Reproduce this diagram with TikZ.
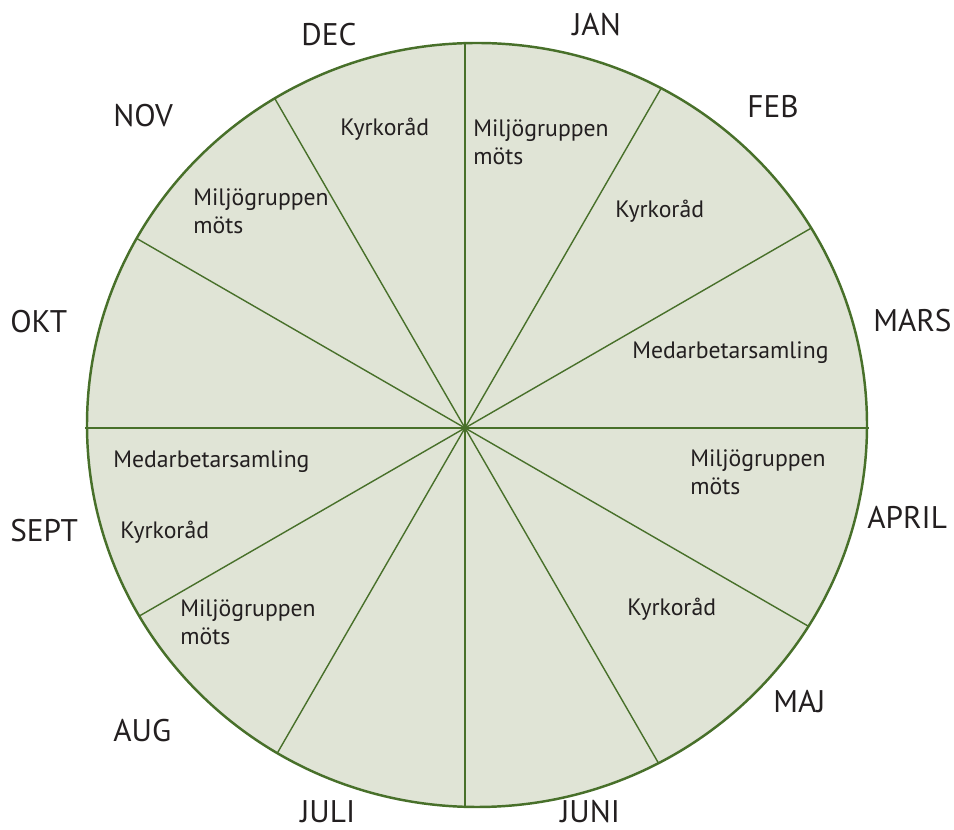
\documentclass[tikz,border=0pt]{standalone}
\usepackage{fontspec}
\setmainfont{PT Sans}
\definecolor{wheelgreen}{RGB}{72,112,42}
\definecolor{wheelfill}{RGB}{224,228,214}
\definecolor{labelgray}{RGB}{35,31,32}

\begin{document}
\begin{tikzpicture}[x=0.02cm,y=-0.02cm,
month/.style={anchor=base west,inner sep=0pt,text=labelgray,
  font=\fontsize{17.8}{20}\selectfont},
event/.style={anchor=base west,inner sep=0pt,align=left,text=labelgray,
  font=\fontsize{13.5}{16.2}\selectfont},
spoke/.style={draw=wheelgreen,line width=0.8pt}]
\useasboundingbox (0,0) rectangle (954,830);

% the wheel
\coordinate (O) at (465,428);
\coordinate (M) at (477,425);
\fill[wheelfill] (M) ellipse [x radius=390, y radius=382];
\begin{scope}
\clip (M) ellipse [x radius=390, y radius=382];
\foreach \a in {30,60,90,120,150,210,240,270,300,330}
  \draw[spoke] (O) -- ++(\a:450);
\end{scope}
\coordinate (hl) at (85,428);
\coordinate (hr) at (869,428);
\draw[spoke] (hl) -- (hr);
\draw[wheelgreen,line width=1.4pt] (M) ellipse [x radius=390, y radius=382];

% months
\node[month] (jan)  at (572,36)  {JAN};
\node[month] (feb)  at (747,118) {FEB};
\node[month] (mar)  at (873,332) {MARS};
\node[month] (apr)  at (867,529) {APRIL};
\node[month] (maj)  at (773,713) {MAJ};
\node[month] (jun)  at (560,823) {JUNI};
\node[month] (jul)  at (300,823) {JULI};
\node[month] (aug)  at (113,742) {AUG};
\node[month] (sep)  at (10,542)  {SEPT};
\node[month] (okt)  at (10,333)  {OKT};
\node[month] (nov)  at (113,127) {NOV};
\node[month] (dec)  at (301,46)  {DEC};

% events (multi-line: base = last line)
\node[event] (e-dec)  at (340,136) {Kyrkoråd};
\node[event] (e-jan)  at (473,165) {Miljögruppen\\möts};
\node[event] (e-feb)  at (615,218) {Kyrkoråd};
\node[event] (e-mar)  at (632,359) {Medarbetarsamling};
\node[event] (e-apr)  at (690,495) {Miljögruppen\\möts};
\node[event] (e-maj)  at (627,616) {Kyrkoråd};
\node[event] (e-aug)  at (180,645) {Miljögruppen\\möts};
\node[event] (e-sep1) at (113,468) {Medarbetarsamling};
\node[event] (e-sep2) at (120,539) {Kyrkoråd};
\node[event] (e-nov)  at (193,234) {Miljögruppen\\möts};
\end{tikzpicture}
\end{document}
